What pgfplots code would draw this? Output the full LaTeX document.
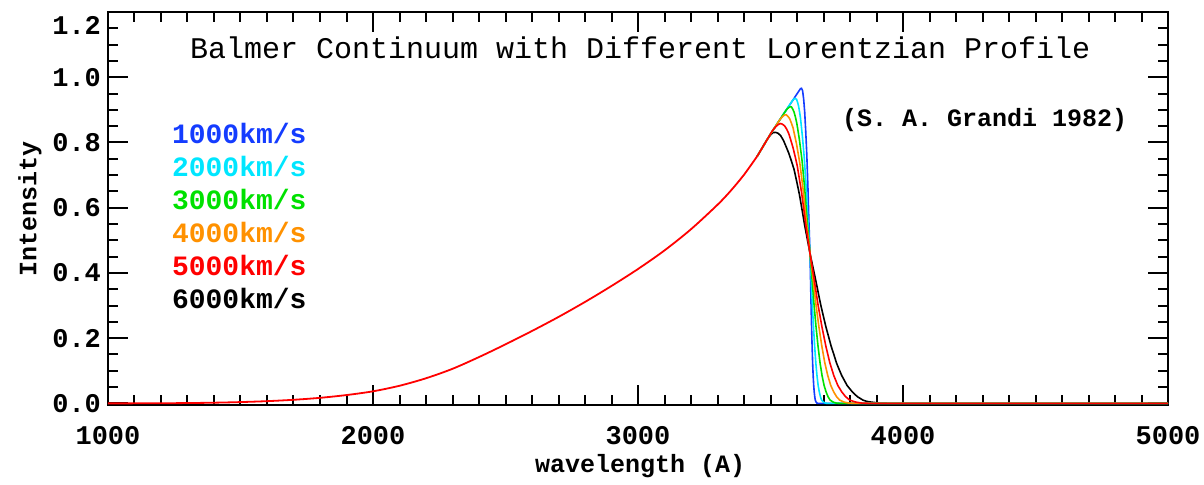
\documentclass[border=0pt]{standalone}
\usepackage{fontspec}
\setmainfont{Liberation Mono}
\usepackage{pgfplots}
\usepackage{pgfplotstable}
\pgfplotsset{compat=1.18}
\definecolor{cblue}{RGB}{20,60,255}
\definecolor{ccyan}{RGB}{0,230,255}
\definecolor{cgreen}{RGB}{0,225,0}
\definecolor{corange}{RGB}{255,145,0}
\definecolor{cred}{RGB}{255,0,0}

\pgfplotstableread{
x y
1000 0
1100 0.0001
1200 0.0004
1300 0.0010
1400 0.0021
1500 0.0040
1600 0.0068
1700 0.0110
1800 0.0170
1900 0.0255
2000 0.0370
2100 0.0540
2200 0.0770
2300 0.1060
2400 0.1420
2500 0.1810
2600 0.2220
2700 0.2650
2800 0.3110
2900 0.3600
3000 0.4120
3100 0.4690
3200 0.5340
3300 0.6090
3350 0.6520
3400 0.7010
3450 0.7580
}\common

\pgfplotstableread{
x y
3450 0.758
3469 0.784
3479 0.798
3489 0.811
3499 0.822
3509 0.830
3519 0.831
3529 0.828
3539 0.820
3549 0.806
3559 0.787
3569 0.767
3579 0.743
3589 0.717
3599 0.680
3609 0.641
3619 0.594
3629 0.546
3639 0.503
3649 0.460
3659 0.422
3669 0.384
3679 0.344
3689 0.304
3699 0.269
3709 0.235
3719 0.205
3729 0.175
3739 0.150
3749 0.124
3759 0.104
3769 0.085
3779 0.070
3789 0.055
3799 0.045
3809 0.035
3819 0.027
3829 0.020
3839 0.015
3849 0.010
3864 0.006
3879 0.004
3909 0.001
3949 0
5000 0
}\vsix

\pgfplotstableread{
x y
3450 0.758
3475 0.792
3500 0.826
3505 0.833
3513 0.842
3521 0.849
3529 0.855
3537 0.858
3545 0.856
3553 0.851
3561 0.841
3569 0.827
3577 0.806
3585 0.784
3593 0.757
3601 0.728
3609 0.688
3617 0.648
3625 0.599
3633 0.548
3641 0.504
3649 0.460
3664 0.384
3679 0.304
3694 0.235
3709 0.175
3724 0.124
3739 0.085
3754 0.055
3769 0.035
3784 0.020
3799 0.010
3821.5 0.004
3844 0.001
3874 0
5000 0
}\vfive

\pgfplotstableread{
x y
3450 0.758
3475 0.792
3500 0.826
3533.8 0.868
3540.2 0.875
3546.6 0.880
3553 0.884
3559.4 0.885
3565.8 0.880
3572.2 0.873
3578.6 0.860
3585 0.845
3591.4 0.821
3597.8 0.797
3604.2 0.767
3610.6 0.737
3617 0.696
3623.4 0.653
3629.8 0.602
3636.2 0.550
3642.6 0.506
3649 0.460
3660.2 0.384
3671.4 0.304
3682.6 0.235
3693.8 0.175
3705 0.124
3716.2 0.085
3727.4 0.055
3738.6 0.035
3749.8 0.020
3761 0.010
3777.8 0.004
3794.6 0.001
3817 0
5000 0
}\vfour

\pgfplotstableread{
x y
3450 0.758
3475 0.792
3500 0.826
3525 0.857
3550 0.888
3559 0.899
3564 0.904
3569 0.907
3574 0.909
3579 0.909
3584 0.902
3589 0.893
3594 0.878
3599 0.860
3604 0.835
3609 0.809
3614 0.777
3619 0.745
3624 0.702
3629 0.658
3634 0.605
3639 0.552
3644 0.506
3649 0.460
3656.6 0.384
3664.2 0.304
3671.8 0.235
3679.4 0.175
3687 0.124
3694.6 0.085
3702.2 0.055
3709.8 0.035
3717.4 0.020
3725 0.010
3736.4 0.004
3747.8 0.001
3763 0
5000 0
}\vthree

\pgfplotstableread{
x y
3450 0.758
3475 0.792
3500 0.826
3525 0.857
3550 0.888
3570 0.913
3584.2 0.930
3591.4 0.935
3595 0.934
3598.6 0.932
3602.2 0.923
3605.8 0.912
3609.4 0.895
3613 0.876
3616.6 0.848
3620.2 0.820
3623.8 0.787
3627.4 0.753
3631 0.708
3634.6 0.662
3638.2 0.608
3641.8 0.554
3645.4 0.507
3649 0.460
3653.4 0.384
3657.8 0.304
3662.2 0.235
3666.6 0.175
3671 0.124
3675.4 0.085
3679.8 0.055
3684.2 0.035
3688.6 0.020
3693 0.010
3699.6 0.004
3706.2 0.001
3715 0
5000 0
}\vtwo

\pgfplotstableread{
x y
3450 0.758
3475 0.792
3500 0.826
3525 0.857
3550 0.888
3575 0.918
3600 0.949
3613 0.965
3617 0.966
3621 0.959
3625 0.934
3629 0.894
3633 0.833
3637 0.762
3641 0.668
3645 0.556
3649 0.460
3651 0.384
3653 0.304
3655 0.235
3657 0.175
3659 0.124
3661 0.085
3663 0.055
3665 0.035
3667 0.020
3669 0.010
3672 0.004
3675 0.001
3679 0
5000 0
}\vone

\newcommand{\tickfont}{\bfseries\fontsize{13.5}{15}\selectfont}
\newcommand{\labfont}{\bfseries\fontsize{12.5}{14}\selectfont}
\newcommand{\legfont}{\bfseries\fontsize{14}{16}\selectfont}

\begin{document}
\begin{tikzpicture}
\path[use as bounding box] (-54pt,-39.5pt) rectangle (548pt,202.5pt);
\begin{axis}[
  at={(0,0)}, anchor=south west,
  scale only axis, width=530pt, height=196.5pt,
  xmin=1000, xmax=5000, ymin=-0.005, ymax=1.2,
  xtick={1000,2000,3000,4000,5000},
  xticklabels={1000,2000,3000,4000,5000},
  minor x tick num=9,
  ytick={0,0.2,0.4,0.6,0.8,1.0},
  yticklabels={0.0,0.2,0.4,0.6,0.8,1.0},
  extra y ticks={1.2},
  extra y tick labels={1.2},
  extra y tick style={yticklabel style={yshift=-6.5pt}},
  minor ytick={0.05,0.1,0.15,0.25,0.3,0.35,0.45,0.5,0.55,0.65,0.7,0.75,0.85,0.9,0.95,1.05,1.1,1.15},
  xtick pos=both, ytick pos=both,
  xticklabel pos=lower, yticklabel pos=left,
  tick align=inside,
  major tick length=10pt, minor tick length=5pt,
  every tick/.style={black, line width=1pt},
  axis line style={black, line width=1pt},
  tick label style={font=\tickfont},
  xticklabel style={anchor=center, yshift=-15.5pt},
  yticklabel style={anchor=east},
  xlabel={wavelength (A)},
  ylabel={Intensity},
  xlabel style={at={(axis description cs:0.502,-0.155)}, anchor=center, font=\labfont},
  ylabel style={at={(axis description cs:-0.0736,0.5)}, anchor=center, font=\labfont},
  clip=true,
]
\addplot[black, line width=0.8pt] table {\vsix};
\addplot[cblue, line width=0.8pt] table {\vone};
\addplot[ccyan, line width=0.8pt] table {\vtwo};
\addplot[cgreen, line width=0.8pt] table {\vthree};
\addplot[corange, line width=0.8pt] table {\vfour};
\addplot[cred, line width=0.8pt] table {\vfive};
\addplot[cred, line width=0.9pt, smooth, tension=0.5] table {\common};

\node[font=\fontsize{15}{17}\selectfont] at (axis description cs:0.502,0.908) {Balmer Continuum with Different Lorentzian Profile};
\node[font=\bfseries\fontsize{12.5}{14}\selectfont] at (axis description cs:0.827,0.725) {(S. A. Grandi 1982)};
\node[font=\legfont, text=cblue, anchor=west] at (axis description cs:0.0538,0.690) {1000km/s};
\node[font=\legfont, text=ccyan, anchor=west] at (axis description cs:0.0538,0.606) {2000km/s};
\node[font=\legfont, text=cgreen, anchor=west] at (axis description cs:0.0538,0.522) {3000km/s};
\node[font=\legfont, text=corange, anchor=west] at (axis description cs:0.0538,0.438) {4000km/s};
\node[font=\legfont, text=cred, anchor=west] at (axis description cs:0.0538,0.354) {5000km/s};
\node[font=\legfont, text=black, anchor=west] at (axis description cs:0.0538,0.270) {6000km/s};
\end{axis}
\end{tikzpicture}
\end{document}
